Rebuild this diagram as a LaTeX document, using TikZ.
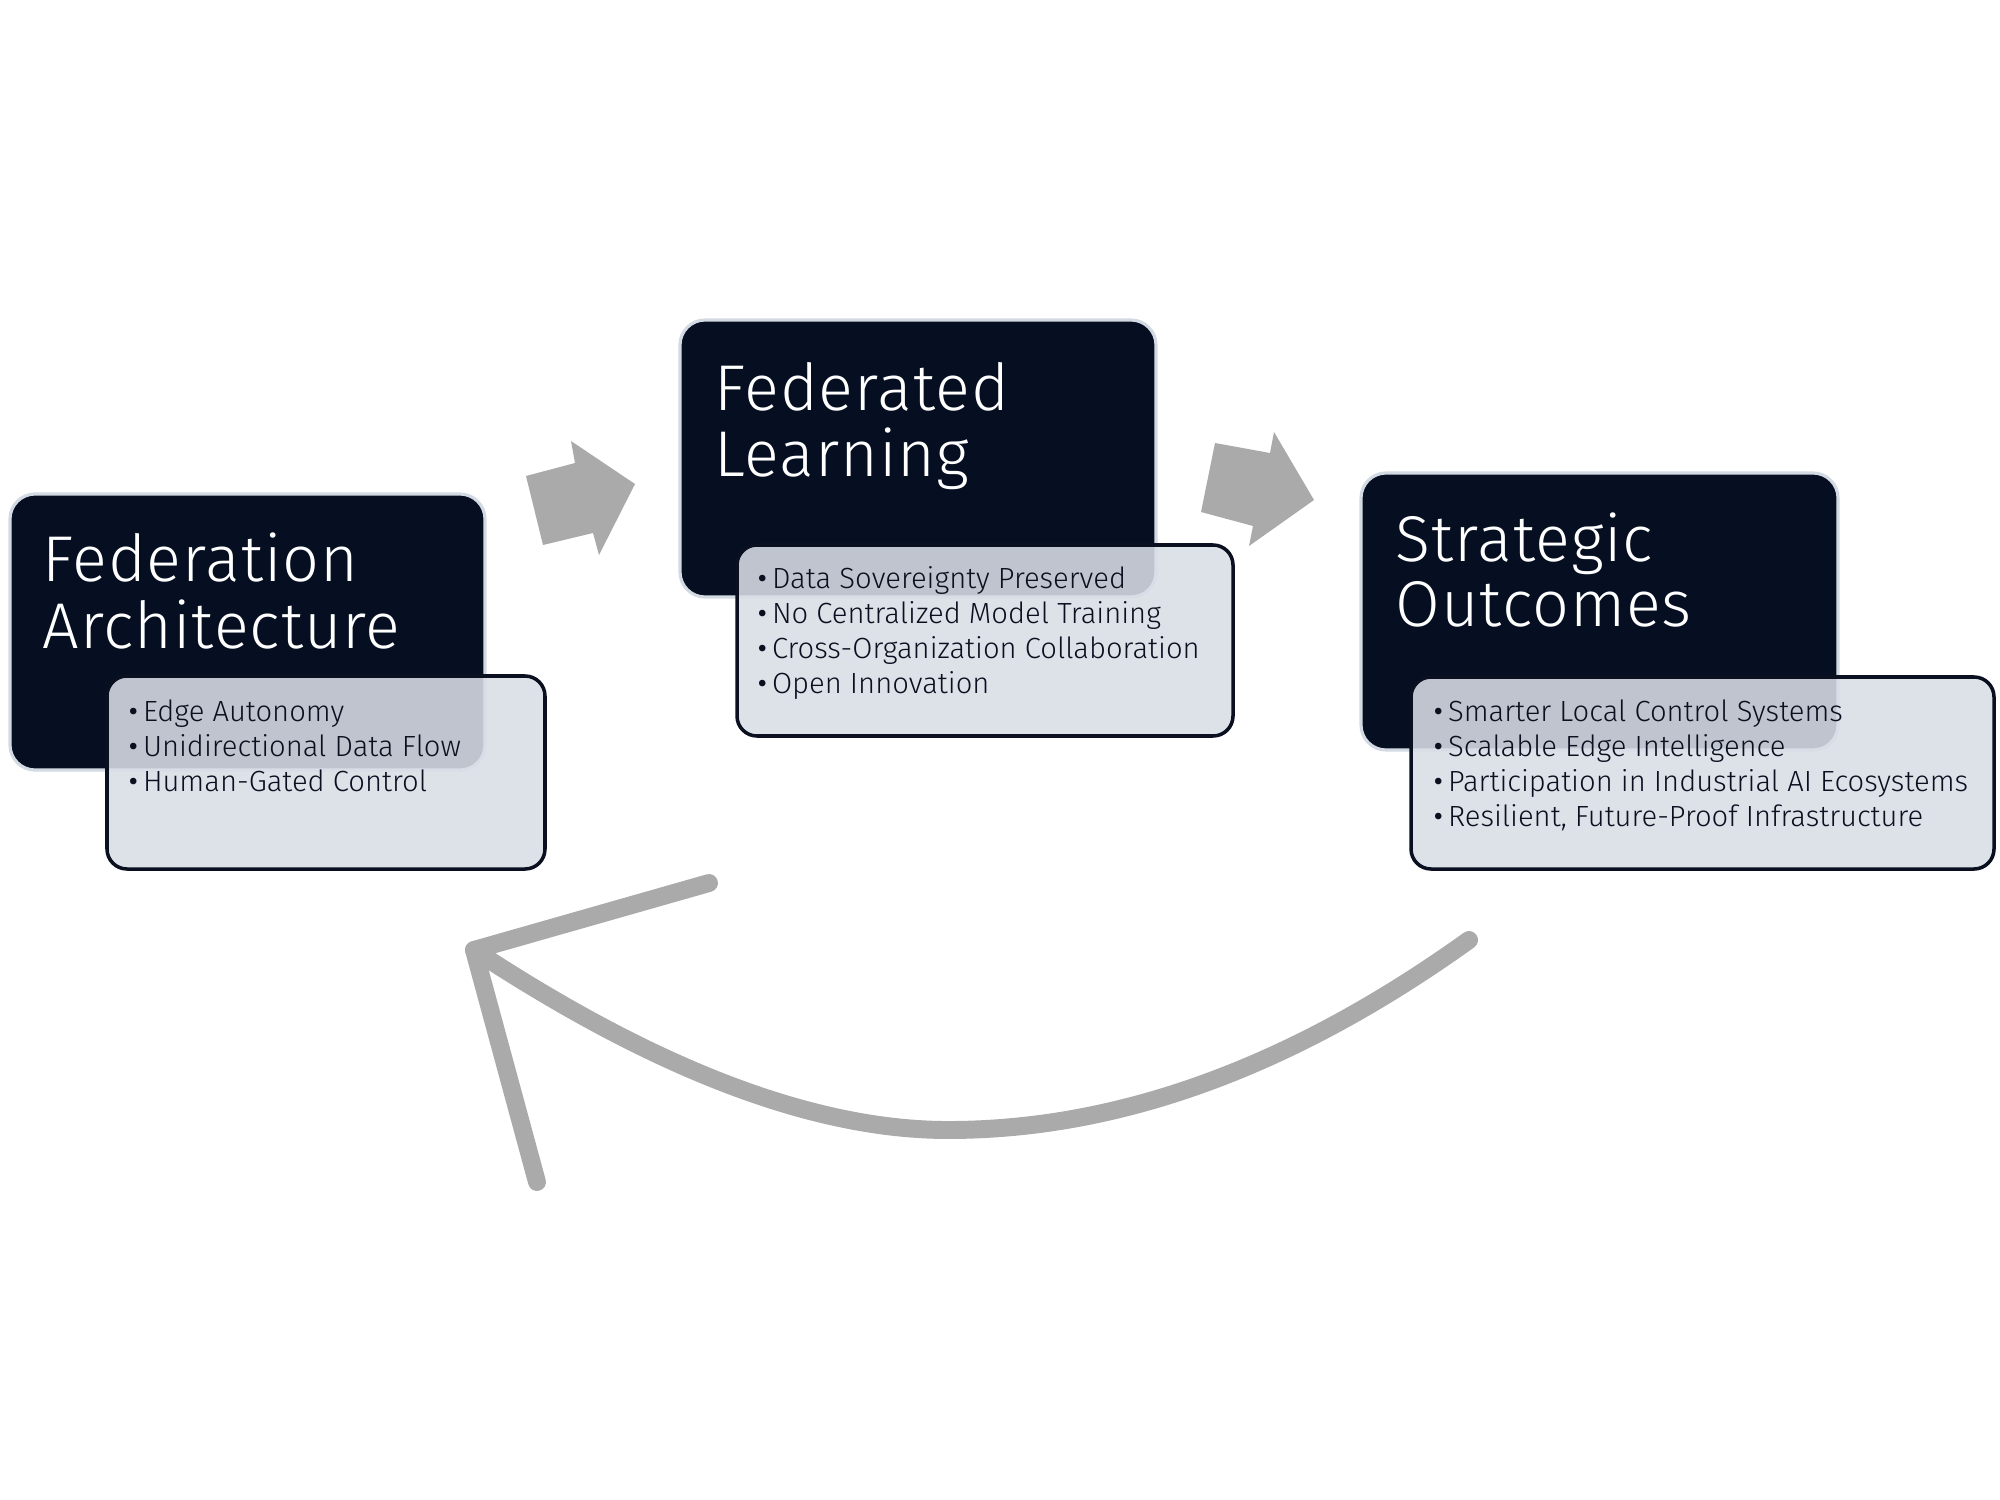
\documentclass[tikz,border=0pt]{standalone}
\usepackage{fontspec}
\setmainfont{Fira Sans}
\newfontfamily\titlefont[LetterSpace=1.5]{Fira Sans Light}
\newfontfamily\bulletfont{Fira Sans Light}
\newcommand{\bul}{{\rmfamily\textbullet}\,}
\definecolor{navy}{HTML}{050F21}
\definecolor{rim}{HTML}{D3DAE4}
\definecolor{pale}{HTML}{D9DEE7}
\definecolor{ink}{HTML}{0B1020}
\definecolor{arrowgray}{HTML}{AAAAAA}
\tikzset{
  darkbox/.style={fill=navy, draw=rim, line width=0.9pt, rounded corners=0.25cm},
  litebox/.style={fill=pale, fill opacity=0.88, draw=ink, line width=1pt, rounded corners=0.2cm},
  titletxt/.style={text=white, font=\titlefont\fontsize{18.4}{19}\selectfont, inner sep=0, anchor=base west},
  bullettxt/.style={text=ink, font=\bulletfont\fontsize{8.3}{10}\selectfont, inner sep=0, anchor=base west},
  blockarrow/.style={fill=arrowgray, draw=none},
  loopline/.style={draw=arrowgray, line width=5.1pt, line cap=round, line join=round}
}
\begin{document}
\begin{tikzpicture}[x=0.01cm,y=-0.01cm]
\useasboundingbox[fill=white] (0,0) rectangle (2000,1500);
% dark boxes
\path[darkbox] (10,494) rectangle (485,770);
\path[darkbox] (680,320) rectangle (1156,597);
\path[darkbox] (1361,473) rectangle (1838,750);
% light boxes
\path[litebox] (107,676) rectangle (545,869);
\path[litebox] (737,545) rectangle (1233,736);
\path[litebox] (1411,677) rectangle (1994,869);
% titles
\node[titletxt] (t1a) at (42,581) {Federation};
\node[titletxt] (t1b) at (42,648) {Architecture};
\node[titletxt] (t2a) at (714,410) {Federated};
\node[titletxt] (t2b) at (714,476) {Learning};
\node[titletxt] (t3a) at (1395,561) {Strategic};
\node[titletxt] (t3b) at (1395,626) {Outcomes};
% bullets
\node[bullettxt] (b1a) at (128,721) {\bul Edge Autonomy};
\node[bullettxt] (b1b) at (128,756) {\bul Unidirectional Data Flow};
\node[bullettxt] (b1c) at (128,791) {\bul Human-Gated Control};
\node[bullettxt] (b2a) at (757,588) {\bul Data Sovereignty Preserved};
\node[bullettxt] (b2b) at (757,623) {\bul No Centralized Model Training};
\node[bullettxt] (b2c) at (757,658) {\bul Cross-Organization Collaboration};
\node[bullettxt] (b2d) at (757,693) {\bul Open Innovation};
\node[bullettxt] (b3a) at (1433,721) {\bul Smarter Local Control Systems};
\node[bullettxt] (b3b) at (1433,756) {\bul Scalable Edge Intelligence};
\node[bullettxt] (b3c) at (1433,791) {\bul Participation in Industrial AI Ecosystems};
\node[bullettxt] (b3d) at (1433,826) {\bul Resilient, Future-Proof Infrastructure};
% block arrows
\path[blockarrow] (526,476) -- (575,463) -- (571,441) -- (635,484) -- (599,555) -- (593,533) -- (543,545) -- cycle;
\path[blockarrow] (1215,443) -- (1270,453) -- (1274,432) -- (1314,500) -- (1249,546) -- (1253,526) -- (1201,512) -- cycle;
% loop arrow
\coordinate (ls) at (1469,940);
\coordinate (lb) at (948,1130);
\coordinate (tip) at (474,950);
\coordinate (arm1) at (709,883);
\coordinate (arm2) at (537,1182);
\draw[loopline] (ls) .. controls (1292,1067) and (1119,1130) .. (lb)
  .. controls (813,1130) and (655,1069) .. (tip);
\draw[loopline] (arm1) -- (tip) -- (arm2);
\end{tikzpicture}
\end{document}
